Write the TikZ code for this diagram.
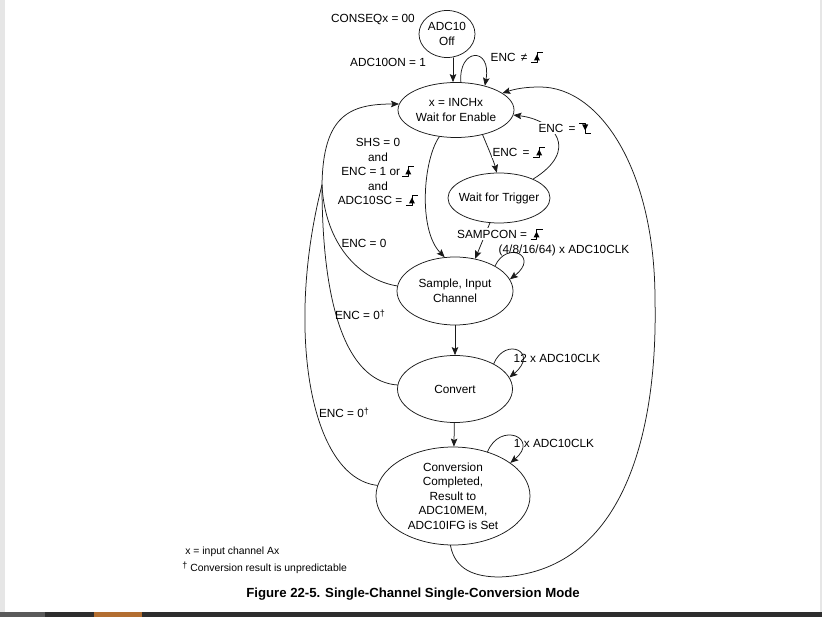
\documentclass[tikz,border=0pt]{standalone}
\usepackage{fontspec}
\setmainfont{Liberation Sans}
\usetikzlibrary{shapes.geometric,arrows.meta}
\definecolor{figink}{HTML}{1A1A1A}
\definecolor{figedge}{HTML}{E6E6E6}
\definecolor{figbar}{HTML}{2E2E2E}
\definecolor{figbarl}{HTML}{5A5A5A}
\definecolor{figorange}{HTML}{B36E30}

\newcommand{\figfont}{\fontsize{11.8}{14.5}\selectfont}
\newcommand{\notefont}{\fontsize{10.4}{12}\selectfont}
\newcommand{\sigrise}{\tikz[x=1pt,y=1pt,baseline=0pt,line width=0.6pt]{\draw (0,0)--(6,0)--(6,10)--(12,10); \fill (3,1.5)--(9,1.5)--(6,7.5)--cycle;}}
\newcommand{\sigfall}{\tikz[x=1pt,y=1pt,baseline=0pt,line width=0.6pt]{\draw (0,10)--(6,10)--(6,0)--(12,0); \fill (3,8.5)--(9,8.5)--(6,2.5)--cycle;}}
\newcommand{\dagmark}{\raisebox{2.5pt}{\fontsize{9}{9}\selectfont †}}

\begin{document}
\begin{tikzpicture}[x=1pt, y=-1pt, line width=0.75pt, line cap=round, line join=round,
  state/.style={draw=figink, ellipse, inner sep=0pt, align=center, font=\figfont},
  lbl/.style={font=\figfont, inner sep=1pt, align=center},
  lblw/.style={lbl, fill=white},
  arr/.style={draw=figink, -{Stealth[length=8pt,width=6.5pt,inset=1.5pt]}},
  link/.style={draw=figink}]
  \useasboundingbox (0,0) rectangle (822,617);

  % 截图边框（左右灰边、底部深色条）
  \fill[figedge] (0,0) rectangle (5,612);
  \fill[figedge] (820,0) rectangle (822,612);
  \fill[figbar] (0,612) rectangle (822,617);
  \fill[figbarl] (0,612) rectangle (45,617);
  \fill[figorange] (94,612) rectangle (142,617);

  % 状态
  \node[state, inner xsep=-2pt, minimum width=56pt, minimum height=47pt] (off) at (447,34) {ADC10\\Off};
  \node[state, minimum width=116pt, minimum height=55pt] (wfe) at (456,110) {x = INCHx\\Wait for Enable};
  \node[state, inner xsep=-5pt, minimum width=102pt, minimum height=50pt] (wft) at (499,198) {Wait for Trigger};
  \node[state, minimum width=116pt, minimum height=68pt] (sample) at (455,291) {Sample, Input\\Channel};
  \node[state, minimum width=115pt, minimum height=67pt] (convert) at (455,389) {Convert};
  \node[state, minimum width=154pt, minimum height=98pt] (done) at (453,496)
    {Conversion\\Completed,\\Result to\\ADC10MEM,\\ADC10IFG is Set};

  % 上电进入等待使能，及其自环
  \draw[arr] ([xshift=6pt]off.south) -- ([xshift=-3pt]wfe.north);
  \draw[arr] (wfe.80) .. controls (458,48) and (492,46) .. (wfe.40);

  % 等待使能 <-> 等待触发
  \draw[arr] (wfe.-43) .. controls (489,150) and (494,162) .. (wft.95);
  \draw[arr] (wft.29) .. controls (580,150) and (555,120) .. (wfe.-5);

  % 进入采样（软件启动 / 触发启动）
  \draw[arr] (wfe.-122) .. controls (423,160) and (418,230) .. (sample.107);
  \draw[arr] (wft.-110) -- (sample.58);

  % 采样 -> 转换 -> 完成，各带时钟自环
  \draw[arr] (sample.32) .. controls (507,240) and (540,256) .. (sample.12);
  \draw[arr] (sample) -- (convert);
  \draw[arr] (convert.33) .. controls (505,336) and (540,352) .. (convert.12);
  \draw[arr] (convert) -- (done);
  \draw[arr] (done.52) .. controls (500,421) and (540,438) .. (done.30);

  % 完成后绕右侧回到等待使能
  \draw[arr] (done.-93) .. controls (455,570) and (475,577) .. (500,577)
    .. controls (620,572) and (658,440) .. (655,300)
    .. controls (655,170) and (600,87) .. (540,87)
    .. controls (525,87) and (515,89) .. (wfe.20);

  % 左侧 ENC = 0 汇合后回到等待使能
  \coordinate (J) at (322,185);
  \draw[arr] (J) .. controls (323,115) and (350,104) .. (wfe.174);
  \draw[link] (sample.175) .. controls (360,280) and (325,245) .. (J);
  \draw[link] (convert.176) .. controls (352,382) and (322,320) .. (J);
  \draw[link] (done.172) .. controls (310,478) and (285,330) .. (J);

  % 条件标签
  \node[lbl] (cons)  at (373,20)  {CONSEQx = 00};
  \node[lbl] (pwron) at (388,62)  {ADC10ON = 1};
  \node[lbl] (encne) at (517,57)  {ENC \,≠ \sigrise};
  \node[lblw] (encr) at (519,152) {ENC \,= \sigrise};
  \node[lblw] (encf) at (565,128) {ENC \,= \sigfall};
  \node[lbl] (shs)   at (378,172) {SHS = 0\\and\\ENC = 1 or\,\sigrise\\and\\ADC10SC = \sigrise};
  \node[lblw] (samp) at (500,234) {SAMPCON = \sigrise};
  \node[lbl] (clka)  at (564,250) {(4/8/16/64) x ADC10CLK};
  \node[lbl] (enca)  at (364,243) {ENC = 0};
  \node[lbl] (encb)  at (360,315) {ENC = 0\dagmark};
  \node[lbl] (encc)  at (344,413) {ENC = 0\dagmark};
  \node[lbl] (clkb)  at (557,358) {12 x ADC10CLK};
  \node[lbl] (clkc)  at (554,443) {1 x ADC10CLK};

  % 脚注与图题
  \node[font=\notefont, anchor=west, inner sep=0pt] (fna) at (185,552) {x = input channel Ax};
  \node[font=\notefont, anchor=west, inner sep=0pt] (fnb) at (182,568) {\dagmark\ Conversion result is unpredictable};
  \node[font=\bfseries\fontsize{13.2}{15}\selectfont] (cap) at (413,594)
    {Figure 22-5. Single-Channel Single-Conversion Mode};
\end{tikzpicture}
\end{document}
